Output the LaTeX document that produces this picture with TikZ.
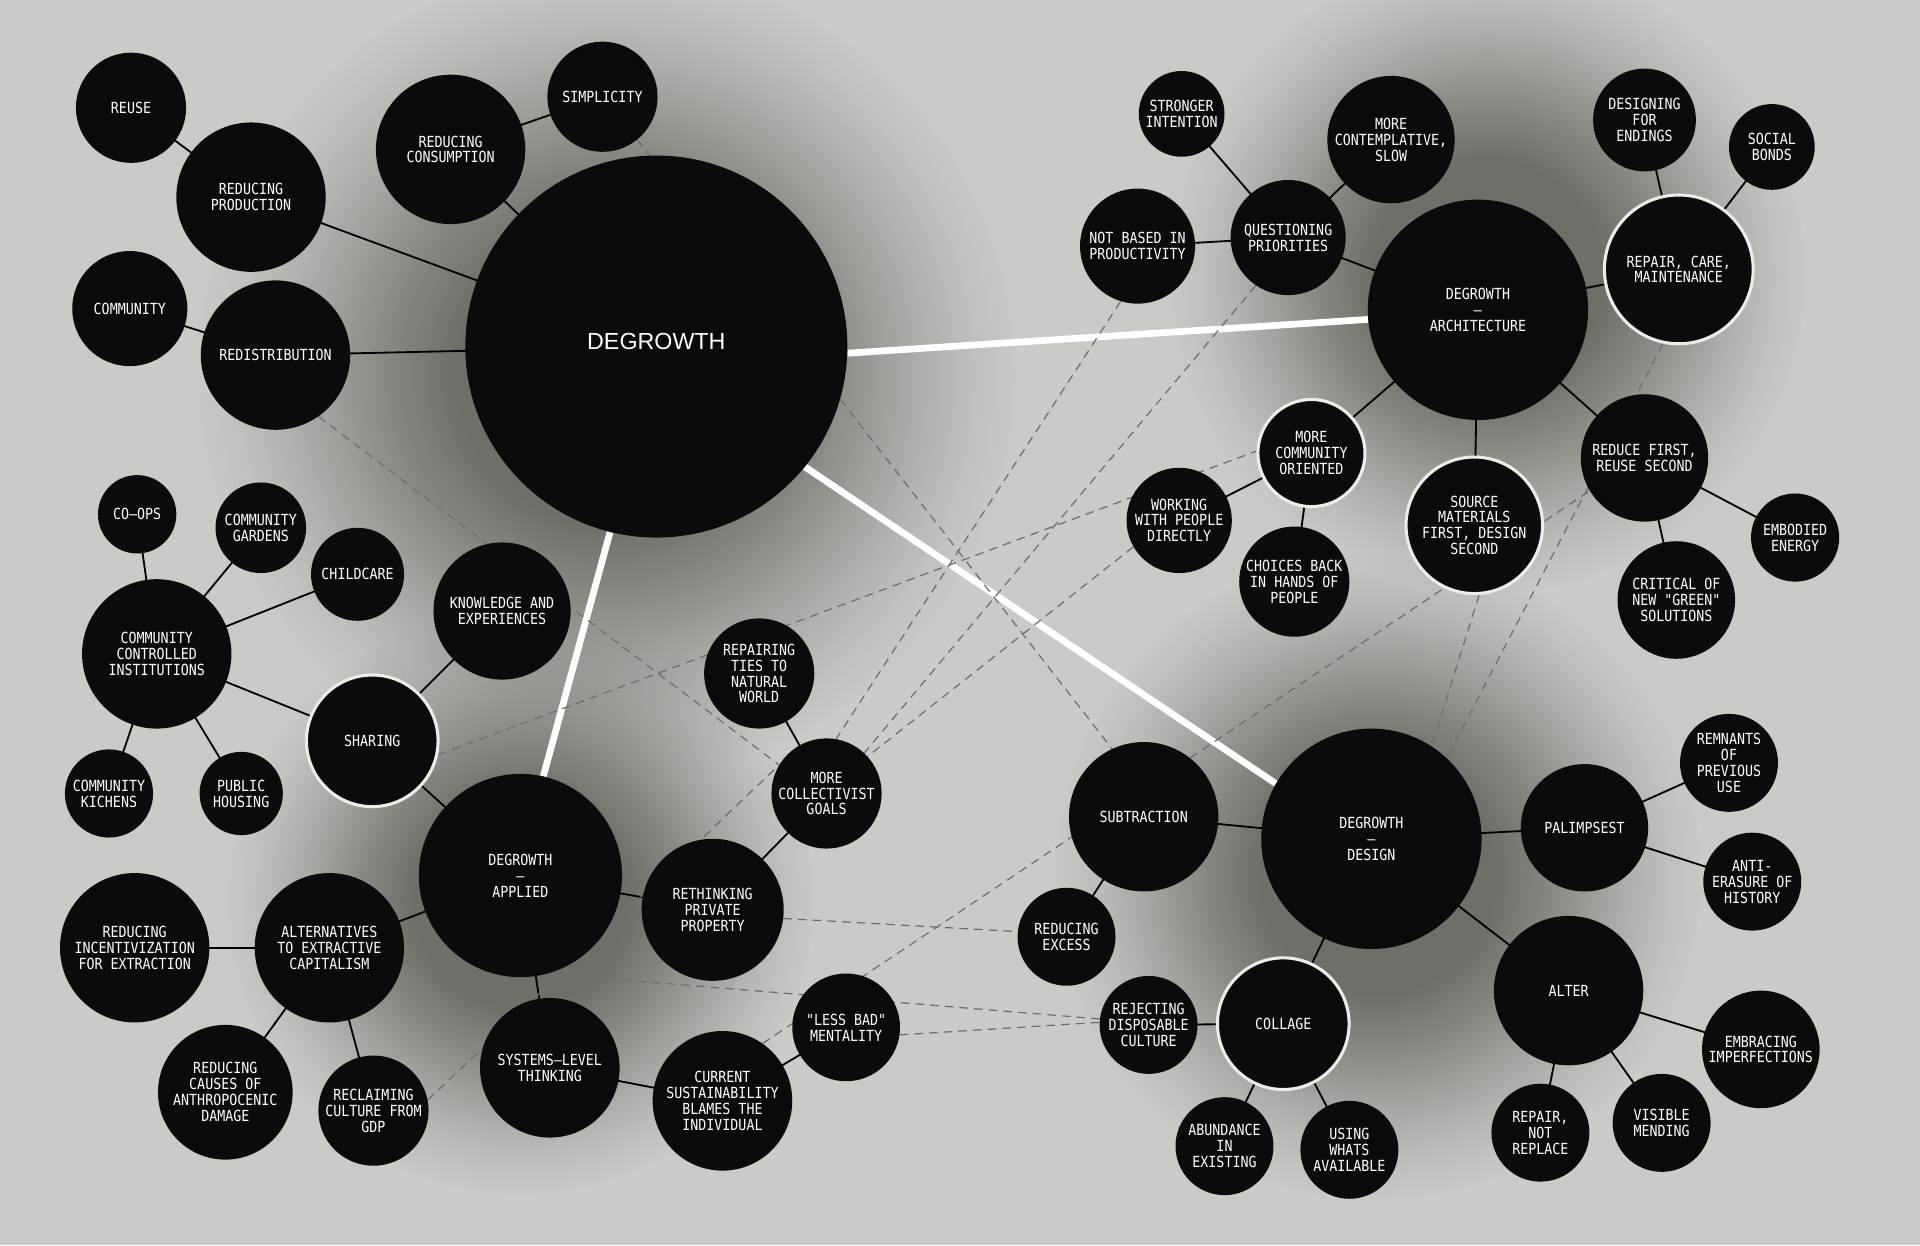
\documentclass[tikz,border=0pt]{standalone}
\usepackage{fontspec}
\newfontfamily\labfont[FakeStretch=0.87,Ligatures=TeXOff]{DejaVu Sans Mono}
\newfontfamily\titfont{Liberation Sans}
\usetikzlibrary{fadings}
\definecolor{bgc}{RGB}{201,203,199}
\definecolor{shc}{RGB}{112,110,105}
\definecolor{bubc}{RGB}{11,11,11}
\definecolor{dashc}{RGB}{108,110,116}
\definecolor{ringc}{RGB}{236,236,234}
\pgfdeclareradialshading{glowsh}{\pgfpointorigin}{color(0bp)=(white); color(9bp)=(white); color(13bp)=(white!75!black); color(17bp)=(white!45!black); color(21bp)=(white!18!black); color(25bp)=(black); color(50bp)=(black)}
\pgfdeclarefading{glow}{\pgfuseshading{glowsh}}
\pgfdeclarelayer{bgl}
\pgfdeclarelayer{shl}
\pgfdeclarelayer{lnl}
\pgfsetlayers{bgl,shl,lnl,main}
\tikzset{
  bub/.style={circle, fill=bubc, inner sep=0pt, text=white, align=center, font=\labfont\fontsize{12.5}{13}\selectfont},
  ring/.style={draw=ringc, line width=2.5pt},
  conn/.style={line width=1.5pt, draw=black},
  dsh/.style={draw=dashc, line width=1pt, dash pattern=on 7pt off 5pt},
  wl/.style={draw=white, line width=5.5pt},
  glowc/.style={fill=shc, path fading=glow}
}
\begin{document}
\begin{tikzpicture}[x=1pt,y=-1pt]
\useasboundingbox (0,0) rectangle (1568,1017);
\begin{pgfonlayer}{bgl}
\fill[bgc] (0,0) rectangle (1568,1017);
\end{pgfonlayer}
\begin{pgfonlayer}{shl}
\fill[glowc] (495,305) circle (335);
\fill[glowc] (1215,225) circle (260);
\fill[glowc] (1125,715) circle (265);
\fill[glowc] (425,735) circle (240);
\end{pgfonlayer}

% main degrowth
\node[bub, minimum size=312pt] (dg) at (536,283) {};
\node[text=white, font=\titfont\fontsize{19}{22}\selectfont, inner sep=0pt] (dgt) at (536,279) {DEGROWTH};

% top-left cluster
\node[bub, minimum size=90pt] (simp) at (492,79) {SIMPLICITY};
\node[bub, minimum size=122pt] (rcons) at (368,122) {REDUCING\\CONSUMPTION};
\node[bub, minimum size=90pt] (reuse) at (107,88) {REUSE};
\node[bub, minimum size=122pt] (rprod) at (205,161) {REDUCING\\PRODUCTION};
\node[bub, minimum size=94pt] (comm) at (106,252) {COMMUNITY};
\node[bub, minimum size=122pt] (redis) at (225,290) {REDISTRIBUTION};

% architecture cluster
\node[bub, minimum size=70pt] (stri) at (965,93) {STRONGER\\INTENTION};
\node[bub, minimum size=94pt] (nbp) at (929,201) {NOT BASED IN\\PRODUCTIVITY};
\node[bub, minimum size=94pt] (qp) at (1052,194) {QUESTIONING\\PRIORITIES};
\node[bub, minimum size=104pt] (mcs) at (1136,114) {MORE\\CONTEMPLATIVE,\\SLOW};
\node[bub, minimum size=180pt] (arch) at (1207,253) {DEGROWTH\\–\\ARCHITECTURE};
\node[bub, minimum size=84pt] (dfe) at (1343,98) {DESIGNING\\FOR\\ENDINGS};
\node[bub, minimum size=70pt] (sb) at (1447,120) {SOCIAL\\BONDS};
\node[bub, ring, minimum size=121.5pt] (rcm) at (1371,220) {REPAIR, CARE,\\MAINTENANCE};
\node[bub, ring, minimum size=87.5pt] (mco) at (1071,370) {MORE\\COMMUNITY\\ORIENTED};
\node[bub, minimum size=86pt] (wwp) at (963,425) {WORKING\\WITH PEOPLE\\DIRECTLY};
\node[bub, minimum size=90pt] (cbh) at (1057,475) {CHOICES BACK\\IN HANDS OF\\PEOPLE};
\node[bub, ring, minimum size=111.5pt] (smf) at (1204,429) {SOURCE\\MATERIALS\\FIRST, DESIGN\\SECOND};
\node[bub, minimum size=104pt] (rfr) at (1343,374) {REDUCE FIRST,\\REUSE SECOND};
\node[bub, minimum size=72pt] (emb) at (1466,439) {EMBODIED\\ENERGY};
\node[bub, minimum size=96pt] (crit) at (1369,490) {CRITICAL OF\\NEW "GREEN"\\SOLUTIONS};

% left community cluster
\node[bub, minimum size=64pt] (coops) at (112,420) {CO–OPS};
\node[bub, minimum size=74pt] (cgard) at (213,431) {COMMUNITY\\GARDENS};
\node[bub, minimum size=76pt] (child) at (292,469) {CHILDCARE};
\node[bub, minimum size=122pt] (cci) at (128,534) {COMMUNITY\\CONTROLLED\\INSTITUTIONS};
\node[bub, minimum size=112pt] (kne) at (410,499) {KNOWLEDGE AND\\EXPERIENCES};
\node[bub, ring, minimum size=107.5pt] (sha) at (304,605) {SHARING};
\node[bub, minimum size=72pt] (ckit) at (89,648) {COMMUNITY\\KICHENS};
\node[bub, minimum size=68pt] (phou) at (197,648) {PUBLIC\\HOUSING};

% applied cluster
\node[bub, minimum size=90pt] (rtn) at (620,550) {REPAIRING\\TIES TO\\NATURAL\\WORLD};
\node[bub, minimum size=90pt] (mcg) at (675,648) {MORE\\COLLECTIVIST\\GOALS};
\node[bub, minimum size=166pt] (app) at (425,715) {DEGROWTH\\–\\APPLIED};
\node[bub, minimum size=116pt] (rpp) at (582,743) {RETHINKING\\PRIVATE\\PROPERTY};
\node[bub, minimum size=122pt] (rie) at (110,774) {REDUCING\\INCENTIVIZATION\\FOR EXTRACTION};
\node[bub, minimum size=122pt] (alt) at (269,774) {ALTERNATIVES\\TO EXTRACTIVE\\CAPITALISM};
\node[bub, minimum size=110pt] (rcad) at (184,892) {REDUCING\\CAUSES OF\\ANTHROPOCENIC\\DAMAGE};
\node[bub, minimum size=90pt] (rcgdp) at (305,907) {RECLAIMING\\CULTURE FROM\\GDP};
\node[bub, minimum size=114pt] (slt) at (449,872) {SYSTEMS–LEVEL\\THINKING};
\node[bub, minimum size=114pt] (csb) at (590,899) {CURRENT\\SUSTAINABILITY\\BLAMES THE\\INDIVIDUAL};
\node[bub, minimum size=88pt] (lbm) at (691,839) {"LESS BAD"\\MENTALITY};

% design cluster
\node[bub, minimum size=122pt] (sub) at (934,667) {SUBTRACTION};
\node[bub, minimum size=80pt] (rex) at (871,765) {REDUCING\\EXCESS};
\node[bub, minimum size=80pt] (rdc) at (938,837) {REJECTING\\DISPOSABLE\\CULTURE};
\node[bub, ring, minimum size=107.5pt] (col) at (1048,836) {COLLAGE};
\node[bub, minimum size=80pt] (abu) at (1000,936) {ABUNDANCE\\IN\\EXISTING};
\node[bub, minimum size=80pt] (uwa) at (1102,939) {USING\\WHATS\\AVAILABLE};
\node[bub, minimum size=180pt] (dgd) at (1120,685) {DEGROWTH\\–\\DESIGN};
\node[bub, minimum size=104pt] (pal) at (1294,676) {PALIMPSEST};
\node[bub, minimum size=80pt] (rem) at (1412,623) {REMNANTS\\OF\\PREVIOUS\\USE};
\node[bub, minimum size=80pt] (anti) at (1431,720) {ANTI-\\ERASURE OF\\HISTORY};
\node[bub, minimum size=122pt] (alter) at (1281,809) {ALTER};
\node[bub, minimum size=96pt] (emi) at (1438,857) {EMBRACING\\IMPERFECTIONS};
\node[bub, minimum size=80pt] (vis) at (1357,917) {VISIBLE\\MENDING};
\node[bub, minimum size=80pt] (rnr) at (1258,925) {REPAIR,\\NOT\\REPLACE};

\begin{pgfonlayer}{lnl}
% solid connectors
\foreach \a/\b in {reuse/rprod, rprod/dg, rcons/simp, rcons/dg, comm/redis, redis/dg,
  stri/qp, nbp/qp, mcs/qp, qp/arch, arch/rcm, dfe/rcm, sb/rcm, arch/mco, arch/smf, arch/rfr,
  rfr/emb, rfr/crit, mco/wwp, mco/cbh,
  coops/cci, cgard/cci, child/cci, cci/sha, cci/ckit, cci/phou, sha/kne, sha/app,
  rtn/mcg, mcg/rpp, rpp/app, app/alt, alt/rie, alt/rcad, alt/rcgdp, app/slt, slt/csb, csb/lbm,
  sub/dgd, sub/rex, dgd/pal, pal/rem, pal/anti, dgd/alter, dgd/col, alter/emi, alter/vis,
  alter/rnr, col/rdc, col/abu, col/uwa}
  \draw[conn] (\a.center) -- (\b.center);
% white main links
\draw[wl] (dg.-2) -- (arch.185);
\draw[wl] (dg.256.6) -- (app.77.6);
\draw[wl] (dg.-39.5) -- (dgd.150.3);
% dashed cross links
\draw[dsh] (redis.-55) -- (mcg.149);
\draw[dsh] (sha.-12) -- (mco.178);
\draw[dsh] (dg.-16) -- (sub.115);
\draw[dsh] (rcm.258) -- (dgd.47);
\draw[dsh] (smf.274) -- (dgd.57);
\draw[dsh] (csb.55) -- (rfr.211);
\draw[dsh] (rpp.-7) -- (rex.174);
\draw[dsh] (alt.-11) -- (rdc.173);
\draw[dsh] (lbm.-8) -- (rdc.177);
\draw[dsh] (nbp.253) -- (mcg.80);
\draw[dsh] (qp.236) -- (mcg.47);
\draw[dsh] (wwp.210) -- (mcg.42);
\draw[dsh] (rcgdp.11) -- (mcg.149);
\draw[dsh] (simp.-51) -- (dg.92);
\end{pgfonlayer}
\end{tikzpicture}
\end{document}
